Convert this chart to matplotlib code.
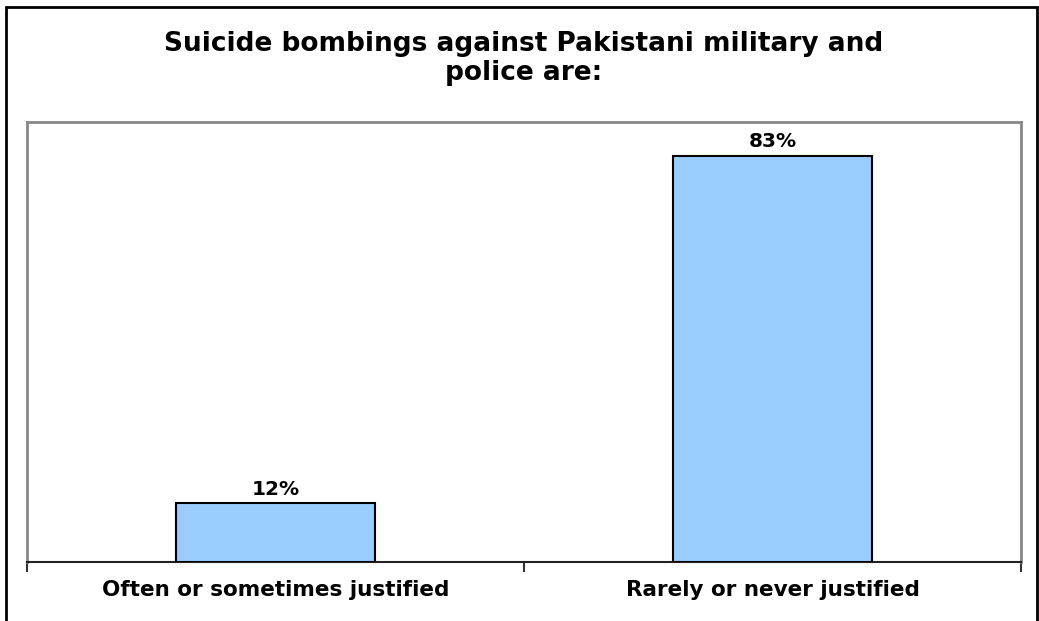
import matplotlib
matplotlib.use("Agg")
import matplotlib.pyplot as plt
from matplotlib.patches import Rectangle
from matplotlib.ticker import FixedLocator

categories = ["Often or sometimes justified", "Rarely or never justified"]
values = [12, 83]
labels = ["12%", "83%"]
title = "Suicide bombings against Pakistani military and\npolice are:"

plt.rcParams['font.family'] = ['DejaVu Sans']

W, H = 1039, 621
fig = plt.figure(figsize=(W / 100, H / 100), dpi=100)

# outer frame
fig.patches.append(Rectangle((6 / W, -0.05), (1037 - 6) / W, 1.05 - 7 / H,
                             transform=fig.transFigure, fill=False,
                             edgecolor='black', linewidth=2.0))

ax = fig.add_axes([27 / W, (H - 562) / H, 994 / W, 440 / H])
x = list(range(len(categories)))
ax.bar(x, values, width=0.4, color='#99CCFF', edgecolor='black', linewidth=1.5, zorder=3)
for xi, v, lab in zip(x, values, labels):
    ax.text(xi, v + 1.8, lab, ha='center', va='baseline', fontsize=14.5, fontweight='bold')

ax.set_xlim(-0.5, len(categories) - 0.5)
ax.set_ylim(0, 90)
ax.set_yticks([])
ax.set_xticks(x)
ax.set_xticklabels(categories, fontsize=15.5, fontweight='bold')
ax.tick_params(axis='x', which='major', length=0, pad=13)
ax.xaxis.set_minor_locator(FixedLocator([-0.5, 0.5, 1.5]))
ax.tick_params(axis='x', which='minor', length=7, width=1.5, color='#333333', direction='out')

for s in ['left', 'right', 'top']:
    ax.spines[s].set_color('#888888')
    ax.spines[s].set_linewidth(2)
ax.spines['bottom'].set_color('#222222')
ax.spines['bottom'].set_linewidth(1.5)

fig.text(524 / W, 1 - 80 / H, title, ha='center', va='baseline', fontsize=19,
         fontweight='bold', linespacing=1.17)

fig.savefig("out.png", dpi=100)
